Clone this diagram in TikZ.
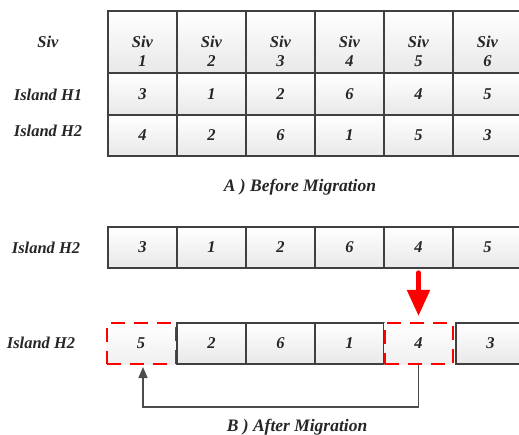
\documentclass[tikz,border=0pt]{standalone}
\usepackage{fontspec}
\setmainfont{Liberation Serif}
\usepackage{tikz}
\usetikzlibrary{positioning,arrows.meta,calc}

\tikzset{
  cellbox/.style={draw=black!75,line width=1.6pt,top color=white,bottom color=black!9,
    minimum width=69pt,minimum height=41pt,inner sep=0pt,
    font=\fontsize{16.5}{19}\selectfont\bfseries\itshape,text=black!85},
  movedbox/.style={cellbox,draw=red,line width=2pt,dash pattern=on 14pt off 9pt,bottom color=black!6},
  rowlabel/.style={font=\fontsize{16.5}{19}\selectfont\bfseries\itshape,text=black!85},
  caption/.style={font=\fontsize{17.5}{20}\selectfont\bfseries\itshape,text=black!85}
}

\begin{document}
\begin{tikzpicture}[x=1pt,y=-1pt]
\useasboundingbox (0,0) rectangle (519,435);

% before migration: table
\node[rowlabel] (sivlab) at (48,42) {Siv};
\node[rowlabel] (hAlab) at (48,95) {Island H1};
\node[rowlabel] (hBlab) at (48,131) {Island H2};
\foreach \i/\a/\b [evaluate=\i as \cx using 73.5+69*\i] in {1/3/4,2/1/2,3/2/6,4/6/1,5/4/5,6/5/3}{
  \node[cellbox,minimum height=62pt] (siv\i) at (\cx,42) {};
  \node[rowlabel,align=center] (sivtxt\i) at (\cx,51) {Siv\\\i};
  \node[cellbox,minimum height=42pt] (hA\i) at (\cx,94) {\a};
  \node[cellbox,minimum height=41pt] (hB\i) at (\cx,135.5) {\b};
}
\node[caption] (capA) at (300,187) {A ) Before Migration};

% after migration
\node[rowlabel] (preLab) at (46,248) {Island H2};
\foreach \i/\v [evaluate=\i as \cx using 73.5+69*\i] in {1/3,2/1,3/2,4/6,5/4,6/5}
  \node[cellbox] (pre\i) at (\cx,247.5) {\v};

\node[rowlabel] (postLab) at (41,343) {Island H2};
\node[movedbox] (post1) at (141,343.5) {5};
\foreach \i/\v [evaluate=\i as \cx using 73.5+69*\i] in {2/2,3/6,4/1}
  \node[cellbox] (post\i) at (\cx,343.5) {\v};
\node[movedbox,minimum width=68pt] (post5) at (418.5,343.5) {4};
\node[cellbox] (post6) at (490.5,343.5) {3};

\draw[red,line width=5pt,line cap=round,-{Triangle[width=22pt,length=26pt]}]
  ($(pre5.south)+(0,4)$) -- ($(post5.north)+(0,-6)$);
\draw[black!70,line width=1.3pt,-{Triangle[width=9pt,length=11pt]}]
  (post5.south) -- ++(0,42) -| ($(post1.south)+(2,2)$);

\node[caption] (capB) at (297,427) {B ) After Migration};
\end{tikzpicture}
\end{document}
